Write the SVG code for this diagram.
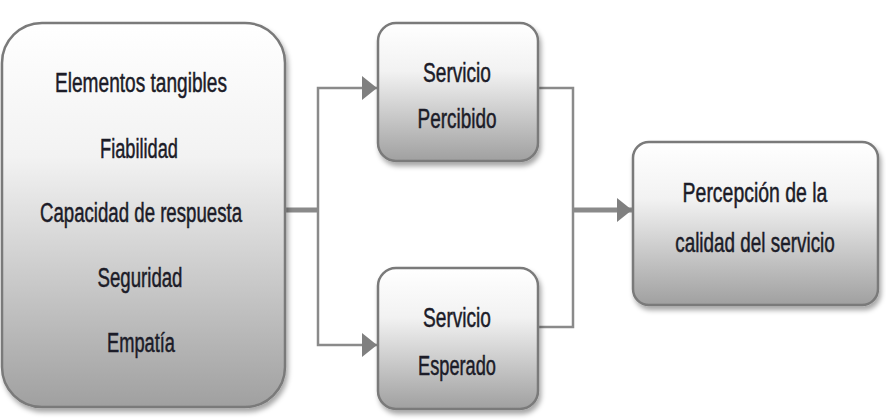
<svg xmlns="http://www.w3.org/2000/svg" width="886" height="420" viewBox="0 0 886 420">
  <defs>
    <linearGradient id="boxFill" x1="0" y1="0" x2="0" y2="1">
      <stop offset="0" stop-color="#ffffff"/>
      <stop offset="0.35" stop-color="#f2f2f2"/>
      <stop offset="1" stop-color="#a0a0a0"/>
    </linearGradient>
    <filter id="shadow" x="-10%" y="-10%" width="120%" height="125%">
      <feDropShadow dx="2" dy="4" stdDeviation="2.5" flood-color="#000" flood-opacity="0.35"/>
    </filter>
    <marker id="arrow" viewBox="0 0 15 24" refX="15" refY="12" markerWidth="15" markerHeight="24" markerUnits="userSpaceOnUse" orient="auto">
      <path d="M0,0 L15,12 L0,24 Z" fill="#808080"/>
    </marker>
  </defs>
  <style>
    .box { fill: url(#boxFill); stroke: #7a7a7a; stroke-width: 2.5; filter: url(#shadow); }
    .label { font-family: "Liberation Sans", Arial, sans-serif; font-size: 27px; fill: #1c1c28; stroke: #1c1c28; stroke-width: 0.5; text-anchor: middle; }
    .line { fill: none; stroke: #8a8a8a; stroke-width: 2.5; }
    .thick { fill: none; stroke: #8a8a8a; stroke-width: 5; }
  </style>

  <rect width="886" height="420" fill="#ffffff"/>

  <!-- connectors -->
  <g id="connectors">
    <path class="thick" d="M285,210 H318"/>
    <path class="line" d="M318,210 V88 H377" marker-end="url(#arrow)"/>
    <path class="line" d="M318,210 V345 H377" marker-end="url(#arrow)"/>
    <path class="line" d="M538,88 H573 V327 H538"/>
    <path class="thick" d="M573,210 H632" marker-end="url(#arrow)"/>
  </g>

  <!-- dimensions of service quality -->
  <g id="dimensiones">
    <rect class="box" x="2" y="23" width="283" height="384" rx="40" ry="40"/>
    <text class="label" x="141" y="92" textLength="172" lengthAdjust="spacingAndGlyphs">Elementos tangibles</text>
    <text class="label" x="139" y="158" textLength="78" lengthAdjust="spacingAndGlyphs">Fiabilidad</text>
    <text class="label" x="141" y="222" textLength="202" lengthAdjust="spacingAndGlyphs">Capacidad de respuesta</text>
    <text class="label" x="140" y="287" textLength="85" lengthAdjust="spacingAndGlyphs">Seguridad</text>
    <text class="label" x="141" y="352" textLength="68" lengthAdjust="spacingAndGlyphs">Empatía</text>
  </g>

  <!-- perceived service -->
  <g id="servicio-percibido">
    <rect class="box" x="378" y="23" width="160" height="138" rx="18" ry="18"/>
    <text class="label" x="457" y="82" textLength="68" lengthAdjust="spacingAndGlyphs">Servicio</text>
    <text class="label" x="457" y="128" textLength="79" lengthAdjust="spacingAndGlyphs">Percibido</text>
  </g>

  <!-- expected service -->
  <g id="servicio-esperado">
    <rect class="box" x="378" y="268" width="160" height="141" rx="18" ry="18"/>
    <text class="label" x="457" y="327" textLength="68" lengthAdjust="spacingAndGlyphs">Servicio</text>
    <text class="label" x="457" y="375" textLength="78" lengthAdjust="spacingAndGlyphs">Esperado</text>
  </g>

  <!-- perceived quality of service -->
  <g id="percepcion-calidad">
    <rect class="box" x="633" y="142" width="245" height="163" rx="16" ry="16"/>
    <text class="label" transform="translate(755 202) scale(0.72 1)">Percepción de la</text>
    <text class="label" transform="translate(755 252) scale(0.70 1)">calidad del servicio</text>
  </g>
</svg>
